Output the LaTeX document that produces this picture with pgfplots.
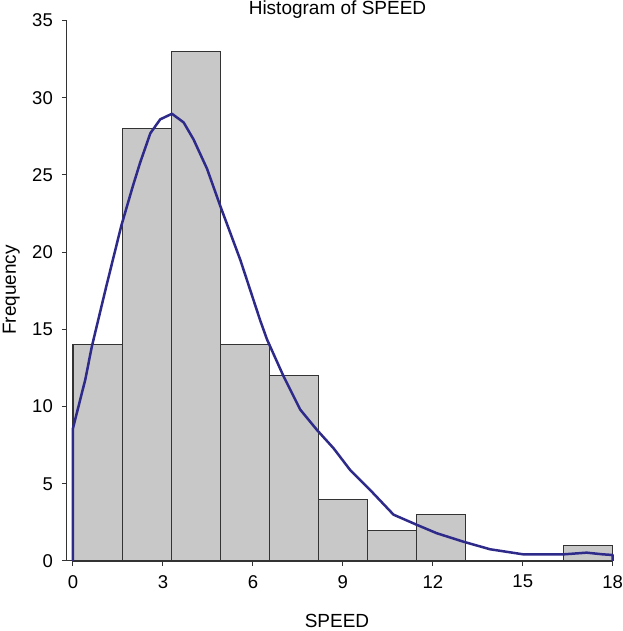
\documentclass[border=0pt]{standalone}
\usepackage{fontspec}
\setmainfont{Liberation Sans}
\usepackage{pgfplots}
\pgfplotsset{compat=1.18}
\definecolor{barfill}{HTML}{C8C8C8}
\definecolor{baredge}{HTML}{333333}
\definecolor{curve}{HTML}{2E2A8A}
\begin{document}
\begin{tikzpicture}
\useasboundingbox (-67pt,-70pt) rectangle (555pt,561pt);
\begin{axis}[
  scale only axis,
  width=545.7pt, height=540.5pt,
  at={(0pt,0pt)}, anchor=south west,
  xmin=-0.2, xmax=18, ymin=0, ymax=35,
  axis x line=bottom, axis y line=left,
  axis line style={-, color=baredge, line width=1pt},
  xtick={0,3,...,18}, ytick={0,5,...,35},
  tick align=outside, major tick length=5pt,
  tick style={color=baredge, line width=1pt},
  /pgf/number format/assume math mode=true,
  ticklabel style={font=\fontsize{18.5}{22}\selectfont, inner sep=0pt},
  xticklabel style={anchor=north, yshift=-9pt},
  yticklabel style={anchor=east, xshift=-9pt},
  clip=false,
]
\addplot[ybar interval, fill=barfill, draw=baredge, line width=1.1pt] coordinates {
(0,14) (1.6364,28) (3.2727,33) (4.9091,14) (6.5455,12) (8.1818,4) (9.8182,2) (11.4545,3) (13.0909,0) (14.7273,0) (16.3636,1) (18,1)
};
\addplot[color=curve, line width=2.5pt, line join=round] coordinates {
(0,0) (0,8.6) (0.41,11.75) (0.63,13.9) (1.1,17.7) (1.61,21.7) (2.0,24.3) (2.24,25.8) (2.58,27.7) (2.91,28.6) (3.3,28.96) (3.69,28.4) (4.02,27.3) (4.47,25.4) (4.91,23.0) (5.58,19.5) (6.24,15.6) (6.47,14.35) (7.02,11.97) (7.58,9.8) (8.13,8.5) (8.69,7.3) (9.24,5.9) (9.91,4.6) (10.69,3.0) (11.47,2.34) (12.13,1.8) (13.02,1.25) (13.91,0.76) (15.02,0.43) (16.36,0.43) (17.13,0.54) (17.68,0.43) (18,0.39) (18,0)
};
\end{axis}
\node[anchor=base, font=\fontsize{19}{22}\selectfont] at (270.5pt,546pt) {Histogram of SPEED};
\node[anchor=base, font=\fontsize{19}{22}\selectfont] at (270pt,-66.5pt) {SPEED};
\node[anchor=base, rotate=90, font=\fontsize{19}{22}\selectfont] at (-51pt,271pt) {Frequency};
\end{tikzpicture}
\end{document}
